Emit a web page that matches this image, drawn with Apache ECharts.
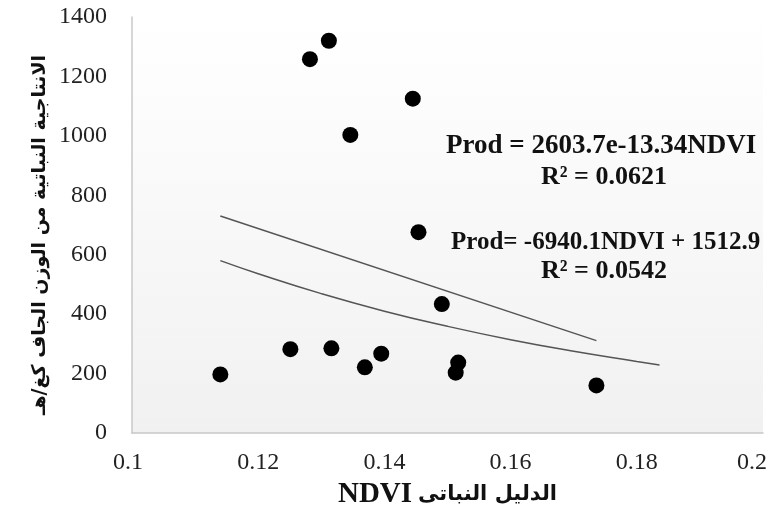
<!DOCTYPE html>
<html><head><meta charset="utf-8">
<script src="https://cdn.jsdelivr.net/npm/echarts@6/dist/echarts.min.js"></script>
<style>html,body{margin:0;padding:0;background:#fff;overflow:hidden}#c{width:773px;height:508px}</style>
</head><body><div id="c"></div>
<script>
// NDVI (x) and production (y) observations
var ndvi = [0.1140, 0.1251, 0.1316, 0.1369, 0.1395, 0.1491, 0.1517, 0.1513, 0.1736, 0.1454, 0.1346, 0.1282, 0.1312, 0.1445];
var prod = [197, 282, 285, 221, 267, 434, 237, 203, 160, 676, 1003, 1258, 1320, 1125];
// Trend lines
var linTrendX = [0.1140, 0.1736];
var linTrendY = [730, 311];
var expTrendX = [0.114, 0.12, 0.13, 0.14, 0.15, 0.16, 0.17, 0.18, 0.1836];
var expTrendY = [580, 536, 469, 410, 359, 314, 275, 241, 229];
var xTicks = [0.1, 0.12, 0.14, 0.16, 0.18, 0.2];
var yTicks = [0, 200, 400, 600, 800, 1000, 1200, 1400];
var eq1 = ['Prod = 2603.7e-13.34NDVI', 'R² = 0.0621'];
var eq2 = ['Prod= -6940.1NDVI + 1512.9', 'R² = 0.0542'];
var xTitleLatin = 'NDVI';
var xTitleArabic = 'الدليل النباتى';
var yTitle = 'الانتاجية النباتية من الوزن الجاف كغ/هـ';

function pairs(a, b) { return a.map(function (v, i) { return [v, b[i]]; }); }
var serif = '"Liberation Serif", "DejaVu Serif", serif';

var chart = echarts.init(document.getElementById('c'), null, {renderer: 'canvas', width: 773, height: 508});
chart.setOption({
  animation: false,
  backgroundColor: '#fff',
  grid: {left: 132, right: 10, top: 17, bottom: 75, show: true, borderWidth: 0,
    containLabel: false, outerBoundsMode: 'none',
    backgroundColor: new echarts.graphic.LinearGradient(0, 0, 0, 1, [
      {offset: 0, color: '#ffffff'}, {offset: 1, color: '#f1f1f1'}])},
  xAxis: {type: 'value', min: 0.1, max: 0.2, interval: 0.02,
    axisLine: {show: true, lineStyle: {color: '#c8c8c8', width: 1.5}},
    axisTick: {show: false}, splitLine: {show: false},
    axisLabel: {fontFamily: serif, fontSize: 24, color: '#222', margin: 18,
      formatter: function (v) {
        var s = String(+v.toFixed(2));
        if (v >= xTicks[xTicks.length - 1] - 1e-9) return '{r|' + s + '}';
        if (v <= xTicks[0] + 1e-9) return '{l|' + s + '}';
        return s;
      },
      rich: {
        r: {fontFamily: serif, fontSize: 24, color: '#222', padding: [0, 22, 0, 0]},
        l: {fontFamily: serif, fontSize: 24, color: '#222', padding: [0, 8, 0, 0]}
      }},
    name: '{a|' + xTitleLatin + '}{b|' + xTitleArabic + '}', nameLocation: 'middle', nameGap: 46,
    nameTextStyle: {color: '#111',
      rich: {
        a: {fontFamily: serif, fontSize: 29, fontWeight: 'bold', color: '#111'},
        b: {fontFamily: '"DejaVu Sans", sans-serif', fontSize: 21, fontWeight: 'bold', color: '#111', padding: [0, 0, 0, 6]}
      }}},
  yAxis: {type: 'value', min: 0, max: 1400, interval: 200,
    axisLine: {show: true, lineStyle: {color: '#c8c8c8', width: 1.5}},
    axisTick: {show: false}, splitLine: {show: false},
    axisLabel: {fontFamily: serif, fontSize: 24, color: '#222', margin: 25,
      formatter: function (v) { return String(v); }}},
  series: [
    {type: 'line', data: pairs(linTrendX, linTrendY), showSymbol: false, symbol: 'none',
      lineStyle: {color: '#555', width: 1.5}, z: 2},
    {type: 'line', data: pairs(expTrendX, expTrendY), showSymbol: false, symbol: 'none', smooth: true,
      lineStyle: {color: '#555', width: 1.5}, z: 2},
    {type: 'scatter', data: pairs(ndvi, prod), symbol: 'circle', symbolSize: 16,
      itemStyle: {color: '#000', opacity: 1}, z: 3}
  ],
  graphic: [
    {type: 'text', x: 40, y: 235, rotation: Math.PI / 2,
      style: {text: yTitle, font: 'bold 19px "DejaVu Sans", sans-serif', fill: '#111', textAlign: 'center', textVerticalAlign: 'middle'}},
    {type: 'text', left: 446, top: 133, style: {text: eq1[0], font: 'bold 27px ' + serif, fill: '#111'}},
    {type: 'text', left: 541, top: 164, style: {text: eq1[1], font: 'bold 26px ' + serif, fill: '#111'}},
    {type: 'text', left: 451, top: 230, style: {text: eq2[0], font: 'bold 25px ' + serif, fill: '#111'}},
    {type: 'text', left: 541, top: 258, style: {text: eq2[1], font: 'bold 26px ' + serif, fill: '#111'}}
  ]
});
</script></body></html>
